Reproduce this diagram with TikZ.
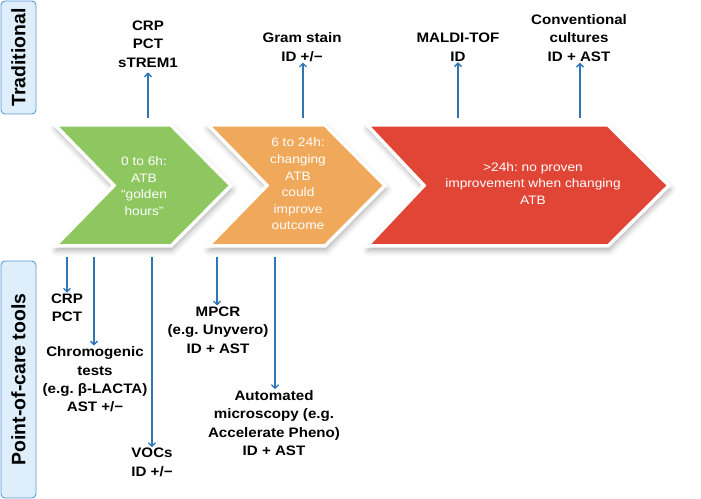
\documentclass[tikz,border=0pt]{standalone}
\usepackage{fontspec}
\setmainfont{Liberation Sans}
\newfontfamily\labfont[FakeStretch=1.1]{Liberation Sans}
\newfontfamily\chevfont[FakeStretch=1.12]{Liberation Sans}
\usetikzlibrary{arrows.meta,shadows.blur}
\definecolor{cgreen}{RGB}{142,198,95}
\definecolor{corange}{RGB}{240,168,90}
\definecolor{cred}{RGB}{224,69,53}
\definecolor{cblue}{RGB}{46,117,182}
\definecolor{cbox}{RGB}{222,238,250}
\definecolor{cboxline}{RGB}{91,155,213}
\frenchspacing
\begin{document}
\begin{tikzpicture}[x=1bp,y=-1bp,
  sidebox/.style={draw=cboxline, fill=cbox, line width=0.9bp, rounded corners=4bp, rotate=90,
    font=\bfseries\fontsize{19.5}{22}\selectfont, inner sep=0pt},
  chev/.style={draw=white, line width=3.5bp, line join=miter,
    blur shadow={shadow xshift=1bp, shadow yshift=-4bp, shadow blur radius=6bp, shadow opacity=35}},
  chevtext/.style={text=white, align=center, font=\chevfont\frenchspacing\fontsize{12.3}{16.7}\selectfont},
  lab/.style={align=center, font=\labfont\frenchspacing\bfseries\fontsize{13.8}{18.5}\selectfont, inner sep=1bp},
  arr/.style={draw=cblue, line width=1.3bp, -{Straight Barb[length=3.5bp,width=7bp,line width=1.3bp]}}
]
\useasboundingbox (0,0) rectangle (701,499);

% side boxes
\node[sidebox, minimum width=113bp, minimum height=35bp] (trad) at (18.5,57.5) {Traditional};
\node[sidebox, minimum width=237bp, minimum height=35bp] (poc) at (18.5,379.5) {Point-of-care tools};

% chevrons
\path[chev, fill=cgreen] (55,125) -- (171,125) -- (231,185.5) -- (171,246) -- (55,246) -- (114,185.5) -- cycle;
\path[chev, fill=corange] (208,125) -- (325,125) -- (385,185.5) -- (325,246) -- (208,246) -- (267,185.5) -- cycle;
\path[chev, fill=cred] (367,125) -- (608,125) -- (669,185.5) -- (608,246) -- (367,246) -- (424,185.5) -- cycle;

\node[chevtext] (green) at (144,186) {0 to 6h:\\ATB\\“golden\\hours”};
\node[chevtext] (orange) at (298,184) {6 to 24h:\\changing\\ATB\\could\\improve\\outcome};
\node[chevtext] (red) at (533,183.5) {>24h: no proven\\improvement when changing\\ATB};

% traditional labels
\node[lab] (crp) at (148,44) {CRP\\PCT\\sTREM1};
\node[lab] (gram) at (302,47) {Gram stain\\ID +/−};
\node[lab] (maldi) at (458,47) {MALDI-TOF\\ID};
\node[lab] (conv) at (579,38) {Conventional\\cultures\\ID + AST};

\coordinate (t1) at (148,118);
\coordinate (t2) at (303,118);
\coordinate (t3) at (458,118);
\coordinate (t4) at (580,118);
\draw[arr, shorten >=4bp] (t1) -- (t1 |- crp.south);
\draw[arr] (t2) -- (t2 |- gram.south);
\draw[arr] (t3) -- (t3 |- maldi.south);
\draw[arr] (t4) -- (t4 |- conv.south);

% point-of-care labels
\node[lab] (crp2) at (67,308) {CRP\\PCT};
\node[lab] (chromo) at (95,379.5) {Chromogenic\\tests\\(e.g. β-LACTA)\\AST +/−};
\node[lab] (vocs) at (152,462.5) {VOCs\\ID +/−};
\node[lab] (mpcr) at (218,330) {MPCR\\(e.g. Unyvero)\\ID + AST};
\node[lab] (auto) at (274,423) {Automated\\microscopy (e.g.\\Accelerate Pheno)\\ID + AST};

\coordinate (b1) at (67,257);
\coordinate (b2) at (94,257);
\coordinate (b3) at (152,257);
\coordinate (b4) at (217,257);
\coordinate (b5) at (275,257);
\draw[arr] (b1) -- (b1 |- crp2.north);
\draw[arr] (b2) -- (b2 |- chromo.north);
\draw[arr] (b3) -- (b3 |- vocs.north);
\draw[arr] (b4) -- (b4 |- mpcr.north);
\draw[arr] (b5) -- (b5 |- auto.north);
\end{tikzpicture}
\end{document}
